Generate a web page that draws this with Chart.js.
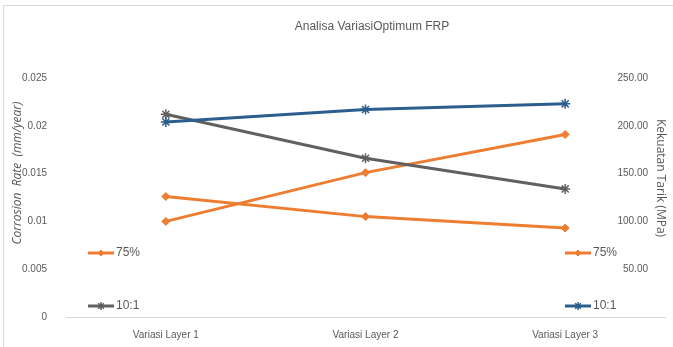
<!DOCTYPE html>
<html>
<head>
<meta charset="utf-8">
<script src="https://cdn.jsdelivr.net/npm/chart.js@4.4.1/dist/chart.umd.min.js"></script>
<style>
  html, body { margin: 0; padding: 0; background: #fff; }
  #wrap { position: relative; width: 673px; height: 347px; overflow: hidden; }
  #frame { position: absolute; left: 3px; top: 5px; right: -4px; bottom: -4px; border: 1px solid #d9d9d9; }
  #c { position: absolute; left: 0; top: 0; }
</style>
</head>
<body>
<div id="wrap">
  <div id="frame"></div>
  <canvas id="c" width="673" height="347"></canvas>
</div>
<script>
// categories along the bottom
const categories = ["Variasi Layer 1", "Variasi Layer 2", "Variasi Layer 3"];

// corrosion rate (left axis, mm/year)
const corrosion75 = [0.0126, 0.0105, 0.0093];
const corrosion101 = [0.0212, 0.0166, 0.0134];

// tensile strength (right axis, MPa)
const tensile75 = [100, 151, 191];
const tensile101 = [204, 217, 223];

// axis ticks
const leftTicks = [0, 0.005, 0.01, 0.015, 0.02, 0.025];
const rightTicks = [0, 50, 100, 150, 200, 250];

const ORANGE = "#ED7D31", GREY = "#606060", BLUE = "#2B5E8C", TXT = "#595959";
const NARROW = "'Liberation Sans Narrow', 'Liberation Sans', sans-serif";

// title, axis titles and the two little side legends (Excel-style placement)
const overlay = {
  id: "overlay",
  afterDraw(chart, args, opts) {
    const ctx = chart.ctx;
    ctx.save();
    ctx.fillStyle = TXT;
    ctx.textBaseline = "middle";

    ctx.font = "12px " + NARROW;
    ctx.textAlign = "center";
    ctx.fillText(opts.title, opts.titleX, opts.titleY);

    opts.axisTitles.forEach(t => {
      ctx.save();
      ctx.translate(t.x, t.y);
      ctx.rotate(t.rot);
      ctx.font = (t.italic ? "italic " : "") + "12px 'Open Sans', sans-serif";
      ctx.textAlign = "center";
      ctx.fillText(t.text, 0, 0);
      ctx.restore();
    });

    opts.legends.forEach(l => {
      const ds = chart.data.datasets[l.ds];
      ctx.strokeStyle = ds.borderColor;
      ctx.lineWidth = 3;
      ctx.beginPath();
      ctx.moveTo(l.x, l.y);
      ctx.lineTo(l.x + 26, l.y);
      ctx.stroke();
      // marker, thin like the chart's own points
      ctx.fillStyle = ds.borderColor;
      ctx.lineWidth = ds.pointBorderWidth || 1;
      Chart.helpers.drawPoint(ctx, {
        pointStyle: ds.pointStyle, radius: ds.pointRadius - 1, borderWidth: ds.pointBorderWidth || 1, rotation: 0,
      }, l.x + 13, l.y);
      ctx.fillStyle = TXT;
      ctx.font = "12px " + NARROW;
      ctx.textAlign = "left";
      ctx.fillText(ds.label, l.x + 28, l.y);
    });
    ctx.restore();
  },
};

new Chart(document.getElementById("c"), {
  type: "line",
  data: {
    labels: categories,
    datasets: [
      { label: "75%", data: corrosion75, yAxisID: "y", borderColor: ORANGE, backgroundColor: ORANGE,
        borderWidth: 3, pointStyle: "rectRot", pointRadius: 4, pointBorderWidth: 1, order: 3 },
      { label: "10:1", data: corrosion101, yAxisID: "y", borderColor: GREY, backgroundColor: GREY,
        borderWidth: 3, pointStyle: "star", pointRadius: 5, pointBorderWidth: 1.5, order: 2 },
      { label: "75%", data: tensile75, yAxisID: "y1", borderColor: ORANGE, backgroundColor: ORANGE,
        borderWidth: 3, pointStyle: "rectRot", pointRadius: 4, pointBorderWidth: 1, order: 4 },
      { label: "10:1", data: tensile101, yAxisID: "y1", borderColor: BLUE, backgroundColor: BLUE,
        borderWidth: 3, pointStyle: "star", pointRadius: 5, pointBorderWidth: 1.5, order: 1 },
    ],
  },
  options: {
    responsive: false,
    animation: false,
    layout: { padding: { top: 78, right: 8, left: 0, bottom: 0 } },
    plugins: {
      legend: { display: false },
      tooltip: { enabled: false },
      overlay: {
        title: "Analisa VariasiOptimum FRP", titleX: 372, titleY: 27,
        axisTitles: [
          { text: "Corrosion  Rate  (mm/year)", x: 18, y: 173, rot: -Math.PI / 2, italic: true },
          { text: "Kekuatan Tarik (MPa)", x: 660, y: 178, rot: Math.PI / 2, italic: false },
        ],
        legends: [
          { ds: 0, x: 88, y: 253 }, { ds: 1, x: 88, y: 306 },
          { ds: 2, x: 565, y: 253 }, { ds: 3, x: 565, y: 306 },
        ],
      },
    },
    scales: {
      x: {
        offset: true,
        grid: { display: false, drawTicks: false },
        border: { display: true, color: "#d9d9d9", width: 1 },
        ticks: { color: TXT, font: { family: NARROW, size: 10 }, padding: 12, maxRotation: 0 },
        afterFit(s) { s.height = 30; },
      },
      y: {
        position: "left", min: 0, max: 0.025,
        afterBuildTicks(s) { s.ticks = leftTicks.map(v => ({ value: v })); },
        grid: { display: false, drawTicks: false },
        border: { display: false },
        ticks: { color: TXT, font: { family: NARROW, size: 10 }, padding: 19,
                 callback: v => String(+v.toFixed(3)) },
        afterFit(s) { s.width = 66; },
      },
      y1: {
        position: "right", min: 0, max: 250,
        afterBuildTicks(s) { s.ticks = rightTicks.map(v => ({ value: v })); },
        grid: { display: false, drawTicks: false },
        border: { display: false },
        ticks: { color: TXT, font: { family: NARROW, size: 10 }, mirror: true, padding: -17,
                 callback: v => v === 0 ? "" : v.toFixed(2) },
        afterFit(s) { s.width = 0; },
      },
    },
  },
  plugins: [overlay],
});
</script>
</body>
</html>
